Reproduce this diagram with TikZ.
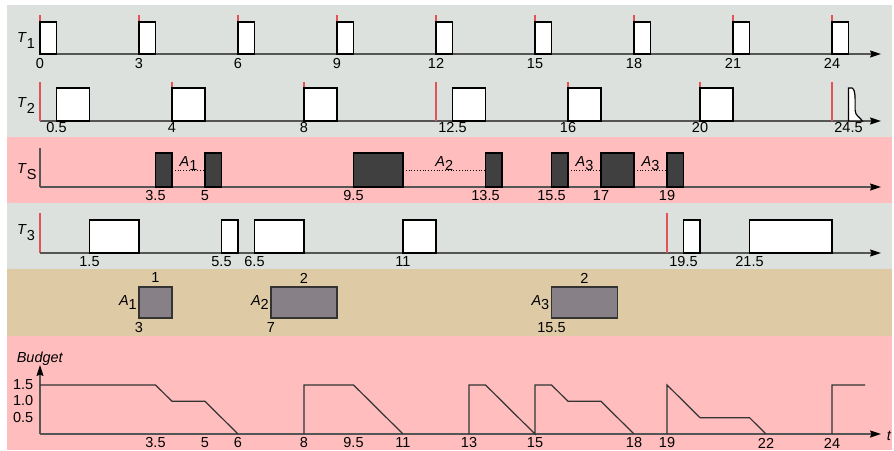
\documentclass[tikz,border=0pt]{standalone}
\usepackage{fontspec}
\setmainfont{Liberation Sans}
\usetikzlibrary{arrows.meta}
\definecolor{bandgrey}{RGB}{221,225,222}
\definecolor{bandpink}{RGB}{255,189,189}
\definecolor{bandtan}{RGB}{222,203,166}
\definecolor{axisgrey}{RGB}{85,85,85}
\definecolor{relred}{RGB}{226,84,84}
\definecolor{srvdark}{RGB}{64,64,64}
\definecolor{aperiodic}{RGB}{135,128,135}
\newcommand{\Sub}[3]{\textit{#1}\raisebox{-#3}{#2}}
\begin{document}
\begin{tikzpicture}[x=33pt,y=-1pt,
  lbl/.style={font=\fontsize{14.5}{16}\selectfont, inner sep=0pt},
  axis/.style={draw=axisgrey, line width=1.3pt, -{Stealth[length=11pt,width=7pt,inset=1.5pt,color=black]}},
  axisline/.style={draw=axisgrey, line width=1.3pt},
  rel/.style={draw=relred, line width=1.2pt},
  job/.style={draw=black, fill=white, line width=1.2pt},
  srv/.style={draw=black, fill=srvdark, line width=1.2pt},
  aper/.style={draw=black!80, fill=aperiodic, line width=1.2pt},
  dotl/.style={draw=black, dotted, line width=0.8pt},
  curve/.style={draw=black!80, line width=1.2pt, line join=miter}]
\useasboundingbox (0pt,0pt) rectangle (894pt,-450pt);
\fill[bandgrey] (7pt,-5pt) rectangle (892pt,-137pt);
\fill[bandpink] (7pt,-137pt) rectangle (892pt,-203pt);
\fill[bandgrey] (7pt,-203pt) rectangle (892pt,-269pt);
\fill[bandtan] (7pt,-269pt) rectangle (892pt,-336pt);
\fill[bandpink] (7pt,-336pt) rectangle (892pt,-450pt);
\begin{scope}[xshift=40pt]
% ---- T1
\node[lbl, anchor=base west] (rT1) at (-0.697,42) {\Sub{T}{1}{6pt}};
\draw[axis] (0,54) -- (25.485,54);
\foreach \t [count=\i] in {0,3,...,24}{
  \draw[rel] (\t,54) -- (\t,15);
  \draw[job] (\t,22) rectangle ++(0.5,32);
  \node[lbl] (a\i) at (\t,63.5) {\t};
}
% ---- T2
\node[lbl, anchor=base west] (rT2) at (-0.697,107) {\Sub{T}{2}{6pt}};
\draw[axis] (0,121) -- (25.485,121);
\foreach \t in {0,4,...,24} \draw[rel] (\t,121) -- (\t,82);
\foreach \t [count=\i] in {0.5,4,8,12.5,16,20}{
  \draw[job] (\t,88) rectangle ++(1,33);
  \node[lbl] (b\i) at (\t,127.5) {\t};
}
\draw[job] (24.5,121) -- (24.5,88) -- (24.61,88)
  .. controls (24.68,89) and (24.7,94) .. (24.7,99) -- (24.7,110)
  .. controls (24.7,116) and (24.85,117) .. (24.92,121) -- cycle;
\node[lbl] (b7) at (24.5,127.5) {24.5};
% ---- TS
\node[lbl, anchor=base west] (rTS) at (-0.697,173) {\Sub{T}{S}{6pt}};
\draw[axisline] (0,148) -- (0,187);
\draw[axis] (0,187) -- (25.485,187);
\foreach \s/\e [count=\i] in {3.5/4,5/5.5,9.5/11,13.5/14,15.5/16,17/18,19/19.5}{
  \draw[srv] (\s,153) rectangle (\e,187);
  \node[lbl] (c\i) at (\s,195.5) {\s};
}
\foreach \s/\e/\k [count=\i] in {4/5/1,11/13.5/2,16/17/3,18/19/3}{
  \draw[dotl] (\s,170) -- (\e,170);
  \node[lbl, anchor=base] (ca\i) at ({(\s+\e)/2},166) {\Sub{A}{\k}{4pt}};
}
% ---- T3
\node[lbl, anchor=base west] (rT3) at (-0.697,234) {\Sub{T}{3}{6pt}};
\draw[rel] (0,213) -- (0,253);
\draw[axis] (0,253) -- (25.485,253);
\draw[rel] (19,213) -- (19,253);
\foreach \s/\e [count=\i] in {1.5/3,5.5/6,6.5/8,11/12,19.5/20,21.5/24}{
  \draw[job] (\s,220) rectangle (\e,253);
  \node[lbl] (e\i) at (\s,261.5) {\s};
}
% ---- aperiodic jobs
\foreach \s/\w/\k [count=\i] in {3/1/1,7/2/2,15.5/2/3}{
  \draw[aper] (\s,287) rectangle ++(\w,31);
  \node[lbl] (dw\i) at (\s+\w/2,278) {\w};
  \node[lbl] (ds\i) at (\s,328) {\s};
  \node[lbl, anchor=base east, xshift=-2pt] (dl\i) at (\s,305) {\Sub{A}{\k}{4pt}};
}
% ---- Budget
\draw[axis] (0,434) -- (25.485,434);
\draw[axis] (0,434) -- (0,365);
\node[lbl, anchor=base] (bud) at (0,362) {\textit{Budget}};
\node[lbl, anchor=east] (y15) at (-0.2,385) {1.5};
\node[lbl, anchor=east] (y10) at (-0.2,401) {1.0};
\node[lbl, anchor=east] (y05) at (-0.2,418) {0.5};
\node[lbl] (tlab) at (25.73,436) {\textit{t}};
\foreach \t [count=\i] in {3.5,5,6,8,9.5,11,13,15,18,19,22,24}
  \node[lbl] (f\i) at (\t,443) {\t};
\begin{scope}[shift={(0,434)}, y=32.7pt]
\draw[curve] (0,1.5) -- (3.5,1.5) -- (4,1) -- (5,1) -- (6,0)
  (8,0) -- (8,1.5) -- (9.5,1.5) -- (11,0)
  (13,0) -- (13,1.5) -- (13.5,1.5) -- (15,0) -- (15,1.5) -- (15.5,1.5) -- (16,1) -- (17,1) -- (18,0)
  (19,0) -- (19,1.5) -- (20,0.5) -- (21.5,0.5) -- (22,0)
  (24,0) -- (24,1.5) -- (25,1.5);
\end{scope}
\end{scope}
\end{tikzpicture}
\end{document}
